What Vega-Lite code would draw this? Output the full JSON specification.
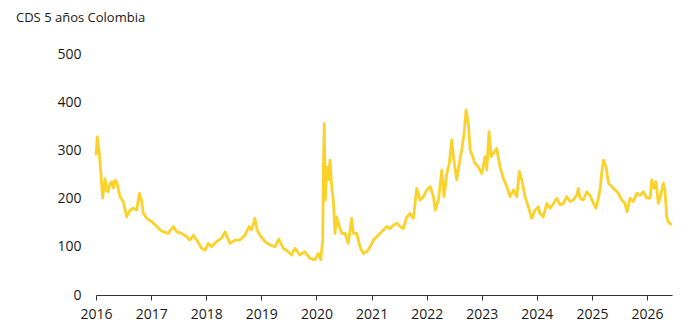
{
  "$schema": "https://vega.github.io/schema/vega-lite/v6.json",
  "width": 576,
  "height": 241,
  "autosize": "none",
  "padding": {"left": 96, "top": 54, "right": 28, "bottom": 37},
  "background": "white",
  "title": {"text": "CDS 5 años Colombia", "anchor": "start", "frame": "group", "dx": -80, "offset": 12, "baseline": "alphabetic", "fontSize": 13, "fontWeight": "normal", "font": "Open Sans", "color": "#1a1a1a"},
  "config": {"view": {"stroke": null}, "font": "Open Sans"},
  "data": {"values": [
    {"date": "2016-01-01", "cds": 290},
    {"date": "2016-01-09", "cds": 328},
    {"date": "2016-01-21", "cds": 300},
    {"date": "2016-02-03", "cds": 250},
    {"date": "2016-02-14", "cds": 201},
    {"date": "2016-03-01", "cds": 241},
    {"date": "2016-03-10", "cds": 218},
    {"date": "2016-03-22", "cds": 214},
    {"date": "2016-04-02", "cds": 230},
    {"date": "2016-04-14", "cds": 235},
    {"date": "2016-04-25", "cds": 222},
    {"date": "2016-05-06", "cds": 238},
    {"date": "2016-05-17", "cds": 235},
    {"date": "2016-06-08", "cds": 204},
    {"date": "2016-06-30", "cds": 194},
    {"date": "2016-07-22", "cds": 162},
    {"date": "2016-08-13", "cds": 176},
    {"date": "2016-09-04", "cds": 180},
    {"date": "2016-09-27", "cds": 176},
    {"date": "2016-10-14", "cds": 211},
    {"date": "2016-10-30", "cds": 194},
    {"date": "2016-11-09", "cds": 170},
    {"date": "2016-12-02", "cds": 159},
    {"date": "2017-01-05", "cds": 152},
    {"date": "2017-02-07", "cds": 142},
    {"date": "2017-03-01", "cds": 135},
    {"date": "2017-03-22", "cds": 131},
    {"date": "2017-04-24", "cds": 128},
    {"date": "2017-05-27", "cds": 142},
    {"date": "2017-06-19", "cds": 131},
    {"date": "2017-07-22", "cds": 128},
    {"date": "2017-08-24", "cds": 121},
    {"date": "2017-09-15", "cds": 114},
    {"date": "2017-10-07", "cds": 124},
    {"date": "2017-10-29", "cds": 114},
    {"date": "2017-12-01", "cds": 97},
    {"date": "2017-12-24", "cds": 93},
    {"date": "2018-01-14", "cds": 107},
    {"date": "2018-02-05", "cds": 100},
    {"date": "2018-03-11", "cds": 111},
    {"date": "2018-04-13", "cds": 118},
    {"date": "2018-05-05", "cds": 131},
    {"date": "2018-06-07", "cds": 107},
    {"date": "2018-07-10", "cds": 114},
    {"date": "2018-08-12", "cds": 114},
    {"date": "2018-09-14", "cds": 124},
    {"date": "2018-10-12", "cds": 142},
    {"date": "2018-10-28", "cds": 135},
    {"date": "2018-11-19", "cds": 159},
    {"date": "2018-12-04", "cds": 135},
    {"date": "2018-12-22", "cds": 124},
    {"date": "2019-01-25", "cds": 111},
    {"date": "2019-02-27", "cds": 104},
    {"date": "2019-04-01", "cds": 100},
    {"date": "2019-04-27", "cds": 116},
    {"date": "2019-05-26", "cds": 97},
    {"date": "2019-06-28", "cds": 90},
    {"date": "2019-07-20", "cds": 83},
    {"date": "2019-08-11", "cds": 97},
    {"date": "2019-09-13", "cds": 83},
    {"date": "2019-10-17", "cds": 90},
    {"date": "2019-11-19", "cds": 76},
    {"date": "2019-12-22", "cds": 73},
    {"date": "2020-01-13", "cds": 86},
    {"date": "2020-01-29", "cds": 73},
    {"date": "2020-02-12", "cds": 114},
    {"date": "2020-02-16", "cds": 259},
    {"date": "2020-02-22", "cds": 356},
    {"date": "2020-02-29", "cds": 197},
    {"date": "2020-03-09", "cds": 266},
    {"date": "2020-03-20", "cds": 239},
    {"date": "2020-03-31", "cds": 280},
    {"date": "2020-04-11", "cds": 225},
    {"date": "2020-04-22", "cds": 197},
    {"date": "2020-05-03", "cds": 128},
    {"date": "2020-05-14", "cds": 162},
    {"date": "2020-06-01", "cds": 142},
    {"date": "2020-06-17", "cds": 128},
    {"date": "2020-07-08", "cds": 128},
    {"date": "2020-07-30", "cds": 107},
    {"date": "2020-08-22", "cds": 159},
    {"date": "2020-09-02", "cds": 128},
    {"date": "2020-09-24", "cds": 128},
    {"date": "2020-10-16", "cds": 100},
    {"date": "2020-11-07", "cds": 86},
    {"date": "2020-11-30", "cds": 90},
    {"date": "2020-12-22", "cds": 100},
    {"date": "2021-01-13", "cds": 114},
    {"date": "2021-02-04", "cds": 121},
    {"date": "2021-02-26", "cds": 128},
    {"date": "2021-03-20", "cds": 135},
    {"date": "2021-04-12", "cds": 142},
    {"date": "2021-05-04", "cds": 138},
    {"date": "2021-05-26", "cds": 145},
    {"date": "2021-06-17", "cds": 149},
    {"date": "2021-07-09", "cds": 142},
    {"date": "2021-07-31", "cds": 138},
    {"date": "2021-08-22", "cds": 162},
    {"date": "2021-09-13", "cds": 169},
    {"date": "2021-10-05", "cds": 159},
    {"date": "2021-10-27", "cds": 221},
    {"date": "2021-11-18", "cds": 197},
    {"date": "2021-12-10", "cds": 204},
    {"date": "2022-01-02", "cds": 218},
    {"date": "2022-01-24", "cds": 225},
    {"date": "2022-02-15", "cds": 204},
    {"date": "2022-02-26", "cds": 176},
    {"date": "2022-03-20", "cds": 197},
    {"date": "2022-04-11", "cds": 259},
    {"date": "2022-04-26", "cds": 204},
    {"date": "2022-05-14", "cds": 252},
    {"date": "2022-05-31", "cds": 273},
    {"date": "2022-06-16", "cds": 322},
    {"date": "2022-06-27", "cds": 287},
    {"date": "2022-07-19", "cds": 239},
    {"date": "2022-08-05", "cds": 273},
    {"date": "2022-08-21", "cds": 301},
    {"date": "2022-09-06", "cds": 335},
    {"date": "2022-09-19", "cds": 384},
    {"date": "2022-10-04", "cds": 356},
    {"date": "2022-10-16", "cds": 301},
    {"date": "2022-11-02", "cds": 287},
    {"date": "2022-11-17", "cds": 273},
    {"date": "2022-12-09", "cds": 266},
    {"date": "2023-01-01", "cds": 252},
    {"date": "2023-01-23", "cds": 287},
    {"date": "2023-02-03", "cds": 259},
    {"date": "2023-02-18", "cds": 339},
    {"date": "2023-03-04", "cds": 287},
    {"date": "2023-03-19", "cds": 294},
    {"date": "2023-04-10", "cds": 304},
    {"date": "2023-05-02", "cds": 266},
    {"date": "2023-05-24", "cds": 242},
    {"date": "2023-06-16", "cds": 225},
    {"date": "2023-07-08", "cds": 204},
    {"date": "2023-07-30", "cds": 218},
    {"date": "2023-08-21", "cds": 204},
    {"date": "2023-09-07", "cds": 256},
    {"date": "2023-09-23", "cds": 239},
    {"date": "2023-10-15", "cds": 204},
    {"date": "2023-11-06", "cds": 183},
    {"date": "2023-11-28", "cds": 159},
    {"date": "2023-12-20", "cds": 176},
    {"date": "2024-01-11", "cds": 183},
    {"date": "2024-01-22", "cds": 169},
    {"date": "2024-02-13", "cds": 162},
    {"date": "2024-03-07", "cds": 190},
    {"date": "2024-03-29", "cds": 180},
    {"date": "2024-04-20", "cds": 190},
    {"date": "2024-05-12", "cds": 201},
    {"date": "2024-06-03", "cds": 187},
    {"date": "2024-06-25", "cds": 190},
    {"date": "2024-07-17", "cds": 204},
    {"date": "2024-08-08", "cds": 194},
    {"date": "2024-08-30", "cds": 197},
    {"date": "2024-09-21", "cds": 207},
    {"date": "2024-10-02", "cds": 221},
    {"date": "2024-10-13", "cds": 201},
    {"date": "2024-11-04", "cds": 197},
    {"date": "2024-11-27", "cds": 214},
    {"date": "2024-12-19", "cds": 207},
    {"date": "2025-01-10", "cds": 190},
    {"date": "2025-01-28", "cds": 180},
    {"date": "2025-02-12", "cds": 201},
    {"date": "2025-02-24", "cds": 221},
    {"date": "2025-03-07", "cds": 256},
    {"date": "2025-03-18", "cds": 280},
    {"date": "2025-04-04", "cds": 266},
    {"date": "2025-04-20", "cds": 232},
    {"date": "2025-05-12", "cds": 225},
    {"date": "2025-06-03", "cds": 218},
    {"date": "2025-06-25", "cds": 211},
    {"date": "2025-07-17", "cds": 197},
    {"date": "2025-08-08", "cds": 190},
    {"date": "2025-08-20", "cds": 173},
    {"date": "2025-09-11", "cds": 201},
    {"date": "2025-10-02", "cds": 194},
    {"date": "2025-10-25", "cds": 211},
    {"date": "2025-11-16", "cds": 207},
    {"date": "2025-12-08", "cds": 214},
    {"date": "2025-12-30", "cds": 201},
    {"date": "2026-01-21", "cds": 201},
    {"date": "2026-02-01", "cds": 239},
    {"date": "2026-02-16", "cds": 221},
    {"date": "2026-03-01", "cds": 235},
    {"date": "2026-03-16", "cds": 190},
    {"date": "2026-04-01", "cds": 207},
    {"date": "2026-04-18", "cds": 232},
    {"date": "2026-04-29", "cds": 218},
    {"date": "2026-05-11", "cds": 162},
    {"date": "2026-05-21", "cds": 152},
    {"date": "2026-06-13", "cds": 145}
  ]},
  "mark": {"type": "line", "color": "#FCD22A", "strokeWidth": 2.8, "strokeJoin": "round"},
  "encoding": {
    "x": {
      "field": "date", "type": "temporal",
      "scale": {"domain": ["2016-01-01", "2026-06-15"]},
      "axis": {
        "title": null, "format": "%Y", "tickCount": {"interval": "year", "step": 1},
        "grid": false, "domainColor": "#333333", "tickColor": "#333333", "tickSize": 5,
        "labelFlush": false, "labelOverlap": false,
        "labelFontSize": 14, "labelColor": "#1a1a1a", "labelPadding": 7, "labelFont": "Open Sans"
      }
    },
    "y": {
      "field": "cds", "type": "quantitative",
      "scale": {"domain": [0, 500]},
      "axis": {
        "title": null, "values": [0, 100, 200, 300, 400, 500], "grid": false, "domain": false, "ticks": false,
        "labelFontSize": 14, "labelColor": "#1a1a1a", "labelPadding": 15, "labelFont": "Open Sans"
      }
    }
  }
}
